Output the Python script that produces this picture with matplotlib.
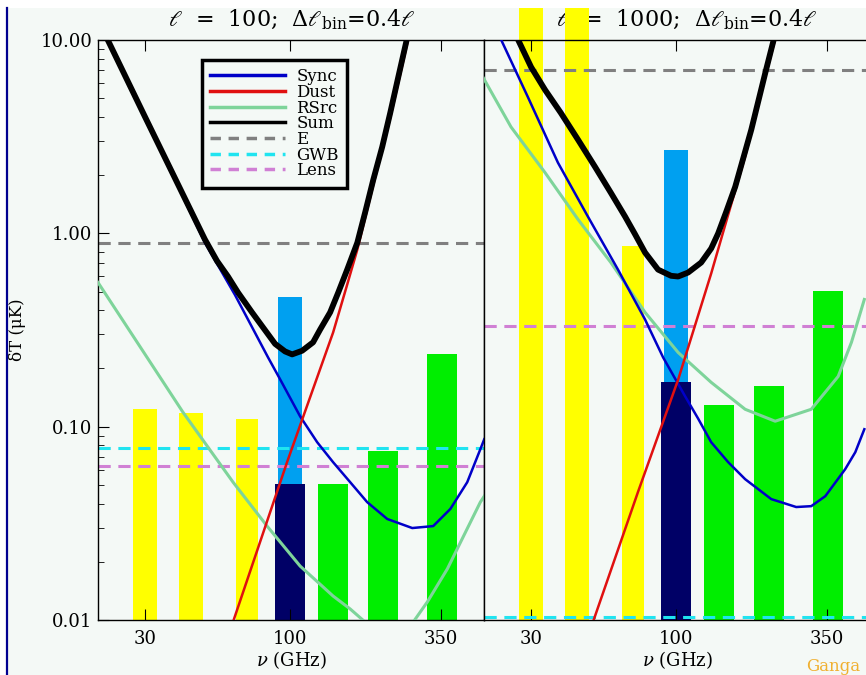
import numpy as np
import matplotlib
matplotlib.use("Agg")
import matplotlib.pyplot as plt
from matplotlib.patches import Rectangle
from matplotlib.lines import Line2D

plt.rcParams['font.family'] = ['DejaVu Serif']
plt.rcParams['mathtext.fontset'] = 'dejavuserif'

# ---------------- data ----------------
band_freqs = [30, 44, 70, 100, 100, 143, 217, 353]
bars_l100 = [0.123, 0.117, 0.110, 0.466, 0.0504, 0.0504, 0.0746, 0.239]
bars_l1000 = [14.6, 14.6, 0.864, 2.71, 0.171, 0.130, 0.162, 0.506]

# ell = 100 panel
syne_nu_l100 = [21.8, 30.0, 49.3, 63.3, 83.3, 92.0, 108.7, 125.2, 142.9, 164.7, 189.6, 224.0,
                275.6, 328.0, 378, 435, 485, 501]
syne_l100 = [10.3, 4.0, 0.895, 0.48, 0.228, 0.176, 0.113, 0.0831, 0.0655, 0.0516, 0.0407, 0.0333,
             0.0299, 0.0306, 0.0375, 0.0516, 0.0764, 0.0861]
sum_nu_l100 = [21.8, 30.0, 49.3, 54.5, 59.7, 64.9, 72.9, 88.3, 95.9, 101.7, 110.5, 121, 128.3,
               139.4, 149.1, 160.6, 174.7, 186.6, 199.4, 214.8, 229.6, 245.5, 264.4]
sum_l100 = [10.3, 4.0, 0.93, 0.72, 0.598, 0.494, 0.390, 0.268, 0.245, 0.2365, 0.247, 0.273, 0.318,
            0.390, 0.494, 0.649, 0.895, 1.29, 1.89, 2.80, 4.20, 6.44, 10.3]
dust_nu_l100 = [62.3, 97.5, 142.9, 160.6, 174.7, 199.4, 229.6, 264.4, 294.5]
dust_l100 = [0.0098, 0.0655, 0.307, 0.543, 0.824, 1.78, 3.96, 9.6, 18.0]
rsrc_nu_l100 = [20.3, 41.1, 62.3, 82.6, 108.7, 142.9, 164.7, 186.6, 227.6, 277.7, 312.4, 369, 485, 501]
rsrc_l100 = [0.557, 0.1187, 0.0516, 0.0306, 0.0190, 0.0133, 0.0114, 0.00975, 0.0075, 0.00975,
             0.0124, 0.0184, 0.0407, 0.0437]
e_l100 = 0.895
gwb_l100 = 0.0773
lens_l100 = 0.0625

# ell = 1000 panel
syne_nu_l1000 = [23.2, 29.2, 37.5, 48.1, 61.7, 77.3, 89.8, 107.8, 120.1, 133.8, 154.1, 177.4,
                 220.3, 271, 307, 345, 407, 442.6, 477]
syne_l1000 = [10.3, 5.08, 2.32, 1.22, 0.650, 0.358, 0.228, 0.1435, 0.110, 0.0831, 0.0655, 0.0535,
              0.0422, 0.0384, 0.0388, 0.0437, 0.0603, 0.0738, 0.0970]
sum_nu_l1000 = [26.7, 30.0, 33.7, 38.4, 44.3, 51.0, 58.2, 65.5, 71.1, 77.3, 86.1, 95.9, 101.7,
                110.5, 123.1, 133.8, 141.8, 151.5, 163.3, 186.6, 209.6, 225.9]
sum_l1000 = [10.3, 7.25, 5.52, 4.20, 3.05, 2.21, 1.62, 1.22, 0.99, 0.795, 0.649, 0.603, 0.598,
             0.627, 0.706, 0.835, 1.0, 1.29, 1.74, 3.43, 6.75, 10.3]
dust_nu_l1000 = [50.2, 72.9, 101.7, 133.8, 154.1, 177.4, 200.0, 225.0, 253.6]
dust_l1000 = [0.0098, 0.046, 0.175, 0.62, 1.25, 2.5, 5.0, 9.5, 18.0]
rsrc_nu_l1000 = [20.1, 25.4, 33.7, 44.3, 58.2, 77.3, 101.7, 133.8, 177.4, 227.6, 307, 384, 428.6, 477]
rsrc_l1000 = [6.44, 3.55, 2.06, 1.18, 0.706, 0.390, 0.242, 0.1695, 0.123, 0.1067, 0.123, 0.182,
              0.273, 0.455]
e_l1000 = 7.0
gwb_l1000 = 0.0104
lens_l1000 = 0.330

xtick_vals = [30, 100, 350]
xtick_labels = ['30', '100', '350']
ytick_vals = [0.01, 0.1, 1.0, 10.0]
ytick_labels = ['0.01', '0.10', '1.00', '10.00']

# ---------------- style ----------------
BG = '#f4f9f6'
bar_widths = [0.087, 0.087, 0.078, 0.084, 0.108, 0.108, 0.108, 0.105]  # decades
bar_colors = ['#ffff00', '#ffff00', '#ffff00', '#00a0f0', '#000066', '#00ee00', '#00ee00', '#00ee00']
C_SYNE = '#0000c8'
C_DUST = '#e01010'
C_RSRC = '#7ed49a'
C_SUM = '#000000'
C_E = '#808080'
C_GWB = '#20e4f0'
C_LENS = '#d080d4'

W, H = 866, 675
fig = plt.figure(figsize=(W / 100, H / 100), dpi=100)
fig.patch.set_facecolor('white')
fig.patches.append(Rectangle((8 / W, 0), 1, (H - 8) / H, transform=fig.transFigure,
                             facecolor=BG, edgecolor='none', zorder=-5))
fig.lines.append(Line2D([7 / W, 7 / W], [0, (H - 8) / H], transform=fig.transFigure,
                        color='#000090', lw=1.6, zorder=-4))

ax_top, ax_bot = 40, 620
axw = 386
def make_ax(x0):
    return fig.add_axes([x0 / W, 1 - ax_bot / H, axw / W, (ax_bot - ax_top) / H])

axL = make_ax(98)
axR = make_ax(484)

dash = (4, 2.5)
YMIN, YMAX = 0.01, 10

def draw_panel(ax, bars, syne, sum_, dust, rsrc, e, gwb, lens, tall_clip):
    for f, v, w, c in zip(band_freqs, bars, bar_widths, bar_colors):
        lo = f * 10 ** (-w / 2)
        hi = f * 10 ** (w / 2)
        b = ax.bar(lo, v - YMIN, width=hi - lo, bottom=YMIN, align='edge', color=c,
                   edgecolor='none', zorder=1)
        if tall_clip and v > YMAX:
            for p in b:
                p.set_clip_on(False)
    for val, c in ((e, C_E), (gwb, C_GWB), (lens, C_LENS)):
        ax.axhline(val, color=c, lw=2.2, dashes=dash, zorder=2)
    ax.plot(rsrc[0], rsrc[1], color=C_RSRC, lw=2.2, zorder=3)
    ax.plot(syne[0], syne[1], color=C_SYNE, lw=1.8, zorder=3)
    ax.plot(dust[0], dust[1], color=C_DUST, lw=1.8, zorder=3)
    ax.plot(sum_[0], sum_[1], color=C_SUM, lw=4.2, zorder=4, solid_capstyle='butt')
    ax.set_xscale('log')
    ax.set_yscale('log')
    ax.set_xlim(20.3, 500)
    ax.set_ylim(YMIN, YMAX)
    ax.set_facecolor(BG)
    ax.set_xticks(xtick_vals)
    ax.set_xticklabels(xtick_labels, fontsize=13)
    ax.xaxis.set_minor_locator(matplotlib.ticker.NullLocator())
    ax.tick_params(axis='x', which='both', direction='in', top=True, bottom=True, length=8, pad=7)
    for s in ax.spines.values():
        s.set_linewidth(1.0)
    ax.set_xlabel(r'$\nu$ (GHz)', fontsize=13, labelpad=1)

draw_panel(axL, bars_l100, (syne_nu_l100, syne_l100), (sum_nu_l100, sum_l100),
           (dust_nu_l100, dust_l100), (rsrc_nu_l100, rsrc_l100),
           e_l100, gwb_l100, lens_l100, False)
draw_panel(axR, bars_l1000, (syne_nu_l1000, syne_l1000), (sum_nu_l1000, sum_l1000),
           (dust_nu_l1000, dust_l1000), (rsrc_nu_l1000, rsrc_l1000),
           e_l1000, gwb_l1000, lens_l1000, True)

axL.set_yticks(ytick_vals)
axL.set_yticklabels(ytick_labels, fontsize=13)
axL.tick_params(axis='y', which='major', direction='in', length=8, pad=4)
axL.tick_params(axis='y', which='minor', direction='in', length=4)
axL.set_ylabel('δT (μK)', fontsize=12)
axL.yaxis.set_label_coords((26 - 98) / axw, 0.5)

axR.yaxis.set_major_locator(matplotlib.ticker.NullLocator())
axR.yaxis.set_minor_locator(matplotlib.ticker.NullLocator())

# titles (behind bars)
fig.text(292 / W, 1 - 20 / H, r'$\ell$  =  100;  $\Delta\ell_{\rm bin}$=0.4$\ell$',
         ha='center', va='center', fontsize=16, zorder=-1)
fig.text(687 / W, 1 - 20 / H, r'$\ell$  =  1000;  $\Delta\ell_{\rm bin}$=0.4$\ell$',
         ha='center', va='center', fontsize=16, zorder=-1)

handles = [Line2D([], [], color=C_SYNE, lw=2.5), Line2D([], [], color=C_DUST, lw=2.5),
           Line2D([], [], color=C_RSRC, lw=2.5), Line2D([], [], color=C_SUM, lw=2.5),
           Line2D([], [], color=C_E, lw=2.5, dashes=(3, 2.2)),
           Line2D([], [], color=C_GWB, lw=2.5, dashes=(3, 2.2)),
           Line2D([], [], color=C_LENS, lw=2.5, dashes=(3, 2.2))]
labels = ['Sync', 'Dust', 'RSrc', 'Sum', 'E', 'GWB', 'Lens']
leg = axL.legend(handles, labels, loc='upper left',
                 bbox_to_anchor=((202 - 98) / axw, 1 - (60 - 40) / 580),
                 fontsize=12, handlelength=4.5, handletextpad=0.65, labelspacing=-0.08,
                 borderpad=0.5, borderaxespad=0, fancybox=False, framealpha=1,
                 facecolor=BG, edgecolor='black')
leg.get_frame().set_linewidth(2.5)
leg.set_zorder(5)

fig.text(806 / W, 1 - 671 / H, 'Ganga', color='#f0b030', fontsize=12, ha='left', va='baseline')

fig.savefig('out.png', dpi=100, facecolor=fig.get_facecolor())
